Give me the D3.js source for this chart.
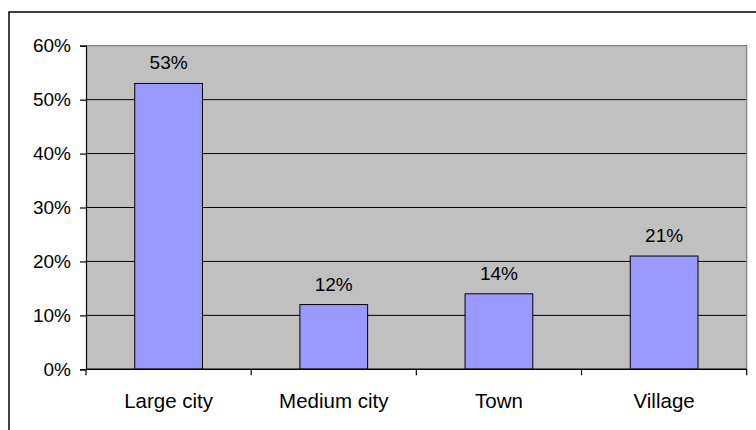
<!DOCTYPE html>
<html>
<head>
<meta charset="utf-8">
<script src="https://cdn.jsdelivr.net/npm/d3@7/dist/d3.min.js"></script>
<style>
  html, body { margin: 0; padding: 0; background: #fff; }
  svg { display: block; font-family: "Liberation Sans", Arial, sans-serif; }
</style>
</head>
<body>
<svg id="chart" width="756" height="430"></svg>
<script>
// Share of respondents by settlement type
const categories = ["Large city", "Medium city", "Town", "Village"];
const shares = [53, 12, 14, 21];
const yTicks = [0, 10, 20, 30, 40, 50, 60];

const svg = d3.select("#chart");
const plot = { left: 86, top: 45.7, right: 746.7, bottom: 369.3 };

// Outer chart frame
svg.append("rect")
  .attr("x", 9).attr("y", 12)
  .attr("width", 800).attr("height", 500)
  .attr("fill", "#fff").attr("stroke", "#000").attr("stroke-width", 1.5);

const x = d3.scaleBand()
  .domain(categories)
  .range([plot.left, plot.right])
  .paddingInner(0.59)
  .paddingOuter(0.295);

const y = d3.scaleLinear()
  .domain([0, 60])
  .range([plot.bottom, plot.top]);

// Plot area background
svg.append("rect")
  .attr("x", plot.left).attr("y", plot.top)
  .attr("width", plot.right - plot.left)
  .attr("height", plot.bottom - plot.top)
  .attr("fill", "#c0c0c0");

// Horizontal gridlines
svg.append("g")
  .selectAll("line")
  .data(yTicks.filter(t => t > 0 && t < 60))
  .join("line")
  .attr("x1", plot.left).attr("x2", plot.right)
  .attr("y1", d => y(d)).attr("y2", d => y(d))
  .attr("stroke", "#000").attr("stroke-width", 1);

// Top and right edges of the plot area
svg.append("path")
  .attr("d", `M${plot.left},${y(60)}H${plot.right}V${plot.bottom}`)
  .attr("fill", "none").attr("stroke", "#808080").attr("stroke-width", 1.2);

// Bars
svg.append("g")
  .selectAll("rect")
  .data(shares)
  .join("rect")
  .attr("x", (d, i) => x(categories[i]))
  .attr("y", d => y(d))
  .attr("width", x.bandwidth())
  .attr("height", d => y(0) - y(d))
  .attr("fill", "#9999ff")
  .attr("stroke", "#000")
  .attr("stroke-width", 1);

// Value labels
svg.append("g")
  .selectAll("text")
  .data(shares)
  .join("text")
  .attr("x", (d, i) => x(categories[i]) + x.bandwidth() / 2)
  .attr("y", d => y(d) - 14)
  .attr("text-anchor", "middle")
  .attr("font-size", 19)
  .attr("fill", "#000")
  .text(d => d + "%");

// Y axis
const yAxis = d3.axisLeft(y)
  .tickValues(yTicks)
  .tickSize(6)
  .tickPadding(9)
  .tickFormat(d => d + "%");
const gy = svg.append("g")
  .attr("transform", `translate(${plot.left},0)`)
  .call(yAxis);
gy.select(".domain").attr("stroke", "#000").attr("stroke-width", 1.2);
gy.selectAll(".tick line").attr("stroke", "#000").attr("stroke-width", 1.2);
gy.selectAll(".tick text")
  .attr("font-size", 19)
  .attr("font-family", "Liberation Sans, Arial, sans-serif")
  .attr("fill", "#000");

// X axis: ticks at category boundaries
const step = x.step();
const boundaries = d3.range(categories.length + 1)
  .map(i => plot.left + i * step);
const gx = svg.append("g");
gx.append("line")
  .attr("x1", plot.left).attr("x2", plot.right)
  .attr("y1", plot.bottom).attr("y2", plot.bottom)
  .attr("stroke", "#000").attr("stroke-width", 1.6);
gx.selectAll("line.tick")
  .data(boundaries)
  .join("line")
  .attr("class", "tick")
  .attr("x1", d => d).attr("x2", d => d)
  .attr("y1", plot.bottom).attr("y2", plot.bottom + 6)
  .attr("stroke", "#000").attr("stroke-width", 1.2);
gx.selectAll("text")
  .data(categories)
  .join("text")
  .attr("x", d => x(d) + x.bandwidth() / 2)
  .attr("y", 408)
  .attr("text-anchor", "middle")
  .attr("font-size", 20.5)
  .attr("fill", "#000")
  .text(d => d);
</script>
</body>
</html>
